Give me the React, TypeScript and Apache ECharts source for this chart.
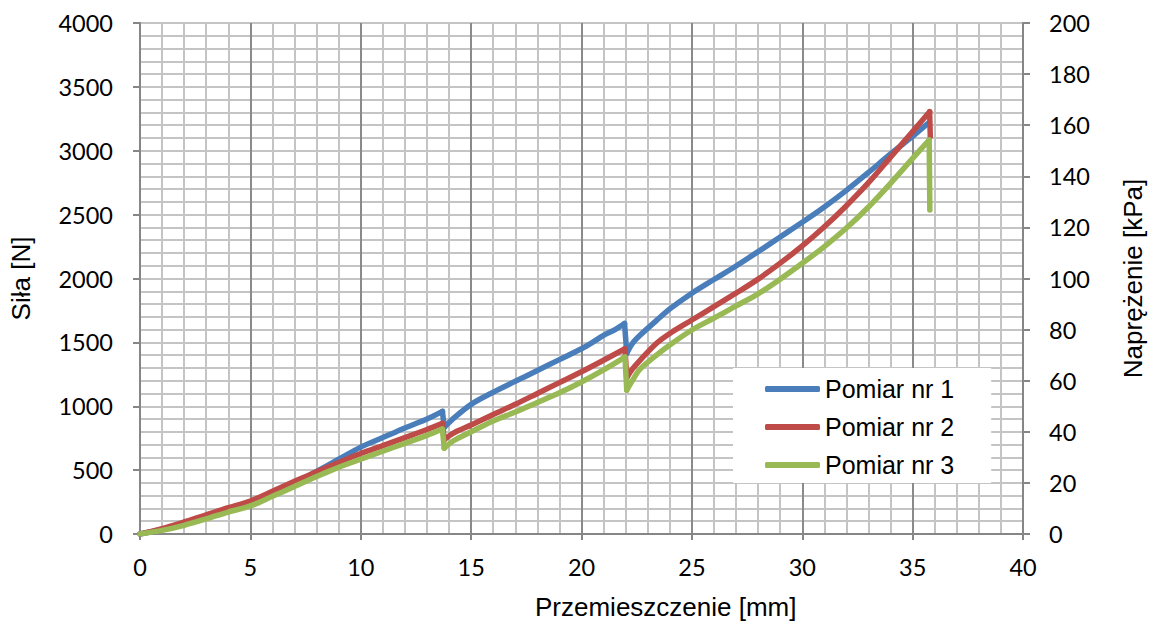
import React, { useEffect, useRef } from "react";
import * as echarts from "echarts";

const seriesNames = ["Pomiar nr 1", "Pomiar nr 2", "Pomiar nr 3"];
const colors = ["#4A7EBB", "#BE4B48", "#98B954"];

// Pomiar nr 1
const x1 = [0, 1, 2, 3, 4, 5, 6, 7, 8, 9, 10, 11, 12, 13, 13.7, 13.78, 14.2, 15, 16, 17, 18, 19, 20, 20.5, 21, 21.5, 21.95, 22.05, 22.3, 22.65, 23.4, 24, 25, 26, 27, 28, 29, 30, 31, 32, 33, 34, 35, 35.7];
const y1 = [0, 35, 82, 138, 192, 240, 312, 398, 490, 585, 680, 755, 830, 900, 960, 835, 905, 1015, 1110, 1195, 1280, 1365, 1450, 1500, 1555, 1598, 1648, 1414, 1490, 1555, 1672, 1762, 1885, 1992, 2098, 2210, 2325, 2440, 2560, 2690, 2830, 2975, 3112, 3215];

// Pomiar nr 2
const x2 = [0, 1, 2, 3, 4, 5, 6, 7, 8, 9, 10, 11, 12, 13, 13.7, 13.78, 14.2, 15, 16, 17, 18, 19, 20, 21, 21.97, 22.05, 22.3, 22.65, 23.4, 24, 25, 26, 27, 28, 29, 30, 31, 32, 33, 34, 35, 35.77, 35.8];
const y2 = [0, 42, 94, 150, 206, 258, 335, 412, 488, 560, 630, 692, 755, 818, 866, 738, 790, 853, 935, 1015, 1100, 1185, 1270, 1360, 1450, 1222, 1290, 1360, 1493, 1570, 1675, 1780, 1885, 1995, 2120, 2255, 2405, 2570, 2750, 2950, 3150, 3306, 3110];

// Pomiar nr 3
const x3 = [0, 1, 2, 3, 4, 5, 6, 7, 8, 9, 10, 11, 12, 13, 13.7, 13.78, 14.2, 15, 16, 17, 18, 19, 20, 21, 21.97, 22.05, 22.3, 22.65, 23.4, 24, 25, 26, 27, 28, 29, 30, 31, 32, 33, 34, 35, 35.75, 35.78];
const y3 = [0, 28, 68, 118, 172, 220, 295, 372, 450, 522, 585, 648, 710, 772, 822, 672, 730, 800, 885, 955, 1030, 1105, 1190, 1285, 1385, 1127, 1200, 1290, 1401, 1480, 1597, 1690, 1785, 1880, 1995, 2119, 2250, 2395, 2560, 2745, 2940, 3084, 2536];

const xTicks = { min: 0, max: 40, interval: 5 };
const leftTicks = { min: 0, max: 4000, interval: 500 };
const rightTicks = { min: 0, max: 200, interval: 20 };

const xName = "Przemieszczenie [mm]";
const leftName = "Siła [N]";
const rightName = "Naprężenie [kPa]";

// split a measured curve into smooth pieces separated by the sudden drops
function splitAtDrops(xs: number[], ys: number[]) {
  const segs: number[][][] = [];
  let cur: number[][] = [[xs[0], ys[0]]];
  for (let i = 1; i < xs.length; i++) {
    if (ys[i] < ys[i - 1]) {
      segs.push(cur);
      segs.push([[xs[i - 1], ys[i - 1]], [xs[i], ys[i]]]);
      cur = [[xs[i], ys[i]]];
    } else {
      cur.push([xs[i], ys[i]]);
    }
  }
  if (cur.length > 1) segs.push(cur);
  return segs;
}

export default function App() {
  const ref = useRef<HTMLDivElement>(null);
  useEffect(() => {
    if (!ref.current) return;
    const chart = echarts.init(ref.current, null, { renderer: "svg" });
    const all = [
      splitAtDrops(x1, y1),
      splitAtDrops(x2, y2),
      splitAtDrops(x3, y3),
    ];
    const tickFont = { fontFamily: "Lato", fontSize: 23.5, color: "#000" };
    const titleFont = { fontFamily: "Liberation Sans", fontSize: 26, color: "#000" };
    const minorGrid = { color: "#c4c4c4", width: 2 };
    const series: any[] = [];
    all.forEach((segs, i) => {
      segs.forEach((seg) => {
        series.push({
          name: seriesNames[i],
          type: "line",
          yAxisIndex: 0,
          data: seg,
          showSymbol: false,
          symbol: "none",
          smooth: 0.3,
          color: colors[i],
          lineStyle: { color: colors[i], width: 5.5, cap: "round", join: "round" },
          itemStyle: { color: colors[i] },
        });
      });
    });
    chart.setOption({
      animation: false,
      backgroundColor: "#fff",
      grid: { left: 140, right: 124, top: 23, bottom: 89, containLabel: false },
      legend: {
        orient: "vertical",
        left: 733,
        top: 368,
        backgroundColor: "#fff",
        padding: [6, 37, 3, 32],
        itemGap: 8,
        itemWidth: 55,
        itemHeight: 6,
        icon: "roundRect",
        textStyle: { fontFamily: "Liberation Sans", fontSize: 25, color: "#000", lineHeight: 30 },
        data: seriesNames,
      },
      graphic: [
        {
          type: "text",
          x: 535,
          y: 607,
          style: {
            text: xName,
            fontFamily: "Liberation Sans",
            fontSize: 26,
            fill: "#000",
            textAlign: "left",
            textVerticalAlign: "middle",
          },
        },
      ],
      xAxis: {
        type: "value",
        min: xTicks.min,
        max: xTicks.max,
        interval: xTicks.interval,
        axisLine: { show: true, onZero: false, lineStyle: { color: "#868686", width: 2 } },
        axisTick: { show: true, inside: false, length: 6, lineStyle: { color: "#868686", width: 2 } },
        axisLabel: { ...tickFont, margin: 21 },
        splitLine: { show: true, lineStyle: { color: "#8a8a8a", width: 2 } },
        minorTick: { show: false, splitNumber: 5 },
        minorSplitLine: { show: true, lineStyle: minorGrid },
      },
      yAxis: [
        {
          type: "value",
          position: "left",
          min: leftTicks.min,
          max: leftTicks.max,
          interval: leftTicks.interval,
          name: leftName,
          nameLocation: "middle",
          nameGap: 106,
          nameTextStyle: titleFont,
          axisLine: { show: true, lineStyle: { color: "#868686", width: 2 } },
          axisTick: { show: true, inside: false, length: 7, lineStyle: { color: "#868686", width: 2 } },
          axisLabel: { ...tickFont, margin: 27, formatter: (v: number) => String(v) },
          splitLine: { show: true, lineStyle: minorGrid },
          minorTick: { show: false, splitNumber: 5 },
          minorSplitLine: { show: true, lineStyle: minorGrid },
        },
        {
          type: "value",
          position: "right",
          min: rightTicks.min,
          max: rightTicks.max,
          interval: rightTicks.interval,
          name: rightName,
          nameLocation: "middle",
          nameGap: 97,
          nameTextStyle: titleFont,
          axisLine: { show: true, lineStyle: { color: "#868686", width: 2 } },
          axisTick: { show: true, inside: false, length: 7, lineStyle: { color: "#868686", width: 2 } },
          axisLabel: { ...tickFont, margin: 26, formatter: (v: number) => String(v) },
          splitLine: { show: false },
        },
      ],
      series,
    });
    return () => chart.dispose();
  }, []);
  return (
    <div
      ref={ref}
      style={{ position: "fixed", left: 0, top: 0, width: 1154, height: 623, background: "#fff" }}
    />
  );
}
